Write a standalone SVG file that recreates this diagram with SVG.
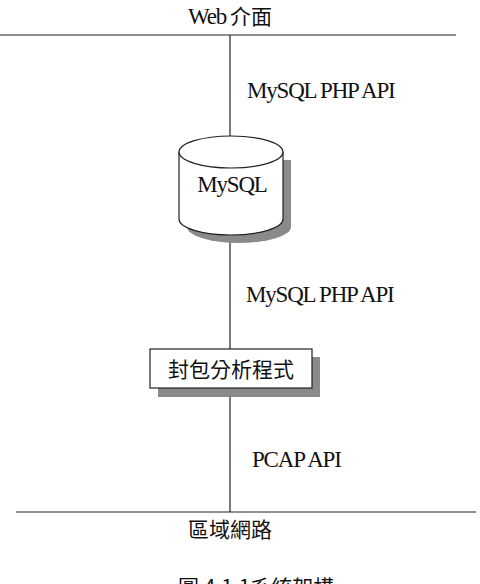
<svg xmlns="http://www.w3.org/2000/svg" width="480" height="584" viewBox="0 0 480 584">
<style>
.lat{font-family:"Liberation Serif","Noto Sans CJK TC",serif;font-size:23px;fill:#111;letter-spacing:-1.2px}
.cjk{font-family:"Noto Sans CJK TC","Noto Sans CJK SC",sans-serif;font-size:21px;fill:#111}
.ln{stroke:#222;stroke-width:1.2;fill:none}
.shadow{fill:#8a8a8a}
</style>
<rect width="480" height="584" fill="#fff"/>
<g id="connectors">
<line class="ln" x1="0" y1="35" x2="456" y2="35"/>
<line class="ln" x1="16" y1="512" x2="476" y2="512"/>
<line class="ln" x1="230" y1="35" x2="230" y2="140"/>
<line class="ln" x1="230" y1="235" x2="230" y2="349"/>
<line class="ln" x1="230" y1="388" x2="230" y2="512"/>
</g>
<g id="web">
<text x="188" y="24" class="lat" font-size="19" letter-spacing="-1.5">Web<tspan class="cjk" dx="4" font-size="22" letter-spacing="0">介面</tspan></text>
</g>
<g id="label1"><text x="247" y="98" class="lat">MySQL PHP API</text></g>
<g id="mysql">
<path class="shadow" d="M187,160 h104 v67 a52,16 0 0 1 -104,0 z"/>
<path d="M179,152 v67 a52,16 0 0 0 104,0 v-67" fill="#fff" stroke="#222" stroke-width="1.2"/>
<ellipse cx="231" cy="152" rx="52" ry="16" fill="#fff" stroke="#222" stroke-width="1.2"/>
<text x="232" y="192" class="lat" text-anchor="middle">MySQL</text>
</g>
<g id="label2"><text x="246" y="302" class="lat">MySQL PHP API</text></g>
<g id="parser">
<rect class="shadow" x="158" y="357" width="162" height="40"/>
<rect x="150" y="349" width="162" height="39" fill="#fff" stroke="#222" stroke-width="1.2"/>
<text x="231" y="377" class="cjk" text-anchor="middle">封包分析程式</text>
</g>
<g id="label3"><text x="252" y="467" class="lat">PCAP API</text></g>
<g id="lan"><text x="230" y="537" class="cjk" text-anchor="middle">區域網路</text></g>
<g id="caption"><text x="178" y="595" class="cjk" font-size="20">圖 4.1.1系統架構</text></g>
</svg>
